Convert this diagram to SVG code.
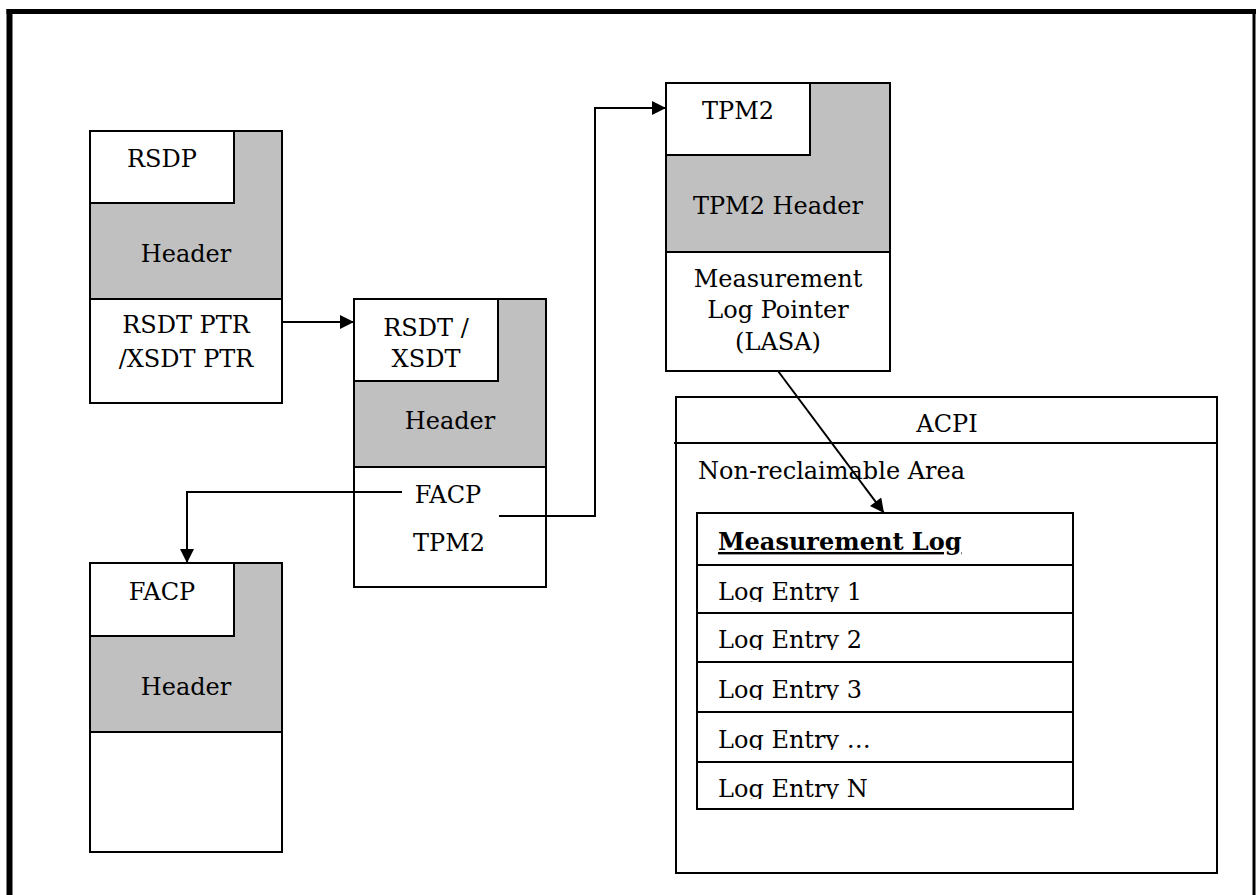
<svg xmlns="http://www.w3.org/2000/svg" width="1256" height="895" viewBox="0 0 1256 895">
  <defs>
    <style>
      .box{fill:#fff;stroke:#000;stroke-width:2}
      .hdr{fill:#c0c0c0;stroke:#000;stroke-width:2}
      .t{font-family:"DejaVu Serif","Liberation Serif",serif;font-size:24px;fill:#000}
      .c{text-anchor:middle}
      .b{font-weight:bold;text-decoration:underline}
      .ln{fill:none;stroke:#000;stroke-width:2}
    </style>
    <marker id="arr" viewBox="0 0 10 10" refX="10" refY="5" markerWidth="16" markerHeight="14" markerUnits="userSpaceOnUse" orient="auto">
      <path d="M0,0 L10,5 L0,10 Z" fill="#000"/>
    </marker>
    <clipPath id="r1"><rect x="697" y="565" width="376" height="37"/></clipPath>
    <clipPath id="r2"><rect x="697" y="613" width="376" height="37"/></clipPath>
    <clipPath id="r3"><rect x="697" y="662" width="376" height="38"/></clipPath>
    <clipPath id="r4"><rect x="697" y="712" width="376" height="38"/></clipPath>
    <clipPath id="r5"><rect x="697" y="762" width="376" height="37"/></clipPath>
  </defs>
  <rect width="1256" height="895" fill="#fff"/>
  <g id="frame">
    <line x1="9.5" y1="9" x2="9.5" y2="895" stroke="#000" stroke-width="6"/>
    <line x1="6.5" y1="11.5" x2="1256" y2="11.5" stroke="#000" stroke-width="5"/>
    <line x1="1254" y1="9" x2="1254" y2="895" stroke="#000" stroke-width="3"/>
  </g>

  <g id="rsdp">
    <rect class="hdr" x="90" y="131" width="192" height="168"/>
    <rect class="box" x="90" y="131" width="144" height="72"/>
    <rect class="box" x="90" y="299" width="192" height="104"/>
    <text class="t c" x="162" y="167">RSDP</text>
    <text class="t c" x="186" y="262">Header</text>
    <text class="t c" x="186" y="333">RSDT PTR</text>
    <text class="t c" x="186" y="367">/XSDT PTR</text>
  </g>

  <g id="rsdt">
    <rect class="hdr" x="354" y="299" width="192" height="168"/>
    <rect class="box" x="354" y="299" width="144" height="82"/>
    <rect class="box" x="354" y="467" width="192" height="120"/>
    <text class="t c" x="426" y="336">RSDT /</text>
    <text class="t c" x="426" y="367">XSDT</text>
    <text class="t c" x="450" y="429">Header</text>
    <text class="t c" x="448" y="503">FACP</text>
    <text class="t c" x="449" y="551">TPM2</text>
  </g>

  <g id="facp">
    <rect class="hdr" x="90" y="563" width="192" height="169"/>
    <rect class="box" x="90" y="563" width="144" height="73"/>
    <rect class="box" x="90" y="732" width="192" height="120"/>
    <text class="t c" x="162" y="600">FACP</text>
    <text class="t c" x="186" y="695">Header</text>
  </g>

  <g id="tpm2">
    <rect class="hdr" x="666" y="83" width="224" height="169"/>
    <rect class="box" x="666" y="83" width="144" height="72"/>
    <rect class="box" x="666" y="252" width="224" height="119"/>
    <text class="t c" x="738" y="119">TPM2</text>
    <text class="t c" x="778" y="214">TPM2 Header</text>
    <text class="t c" x="778" y="287">Measurement</text>
    <text class="t c" x="778" y="318">Log Pointer</text>
    <text class="t c" x="778" y="350">(LASA)</text>
  </g>

  <g id="acpi">
    <rect class="box" x="676" y="397" width="541" height="476"/>
    <line class="ln" x1="674" y1="443" x2="1217" y2="443"/>
    <text class="t c" x="947" y="432">ACPI</text>
    <text class="t" x="698" y="479">Non-reclaimable Area</text>
  </g>

  <g id="measurement-log">
    <rect class="box" x="697" y="513" width="376" height="52"/>
    <rect class="box" x="697" y="565" width="376" height="48"/>
    <rect class="box" x="697" y="613" width="376" height="49"/>
    <rect class="box" x="697" y="662" width="376" height="50"/>
    <rect class="box" x="697" y="712" width="376" height="50"/>
    <rect class="box" x="697" y="762" width="376" height="47"/>
    <text class="t b" x="718" y="550">Measurement Log</text>
    <text class="t" x="718" y="600" clip-path="url(#r1)">Log Entry 1</text>
    <text class="t" x="718" y="648" clip-path="url(#r2)">Log Entry 2</text>
    <text class="t" x="718" y="698" clip-path="url(#r3)">Log Entry 3</text>
    <text class="t" x="718" y="748" clip-path="url(#r4)">Log Entry …</text>
    <text class="t" x="718" y="797" clip-path="url(#r5)">Log Entry N</text>
  </g>

  <g id="connectors">
    <line class="ln" x1="282" y1="322" x2="354" y2="322" marker-end="url(#arr)"/>
    <polyline class="ln" points="402,492 187,492 187,563" marker-end="url(#arr)"/>
    <polyline class="ln" points="499,516 595,516 595,108 666,108" marker-end="url(#arr)"/>
    <line class="ln" x1="778" y1="371" x2="884" y2="513" marker-end="url(#arr)"/>
  </g>
</svg>
